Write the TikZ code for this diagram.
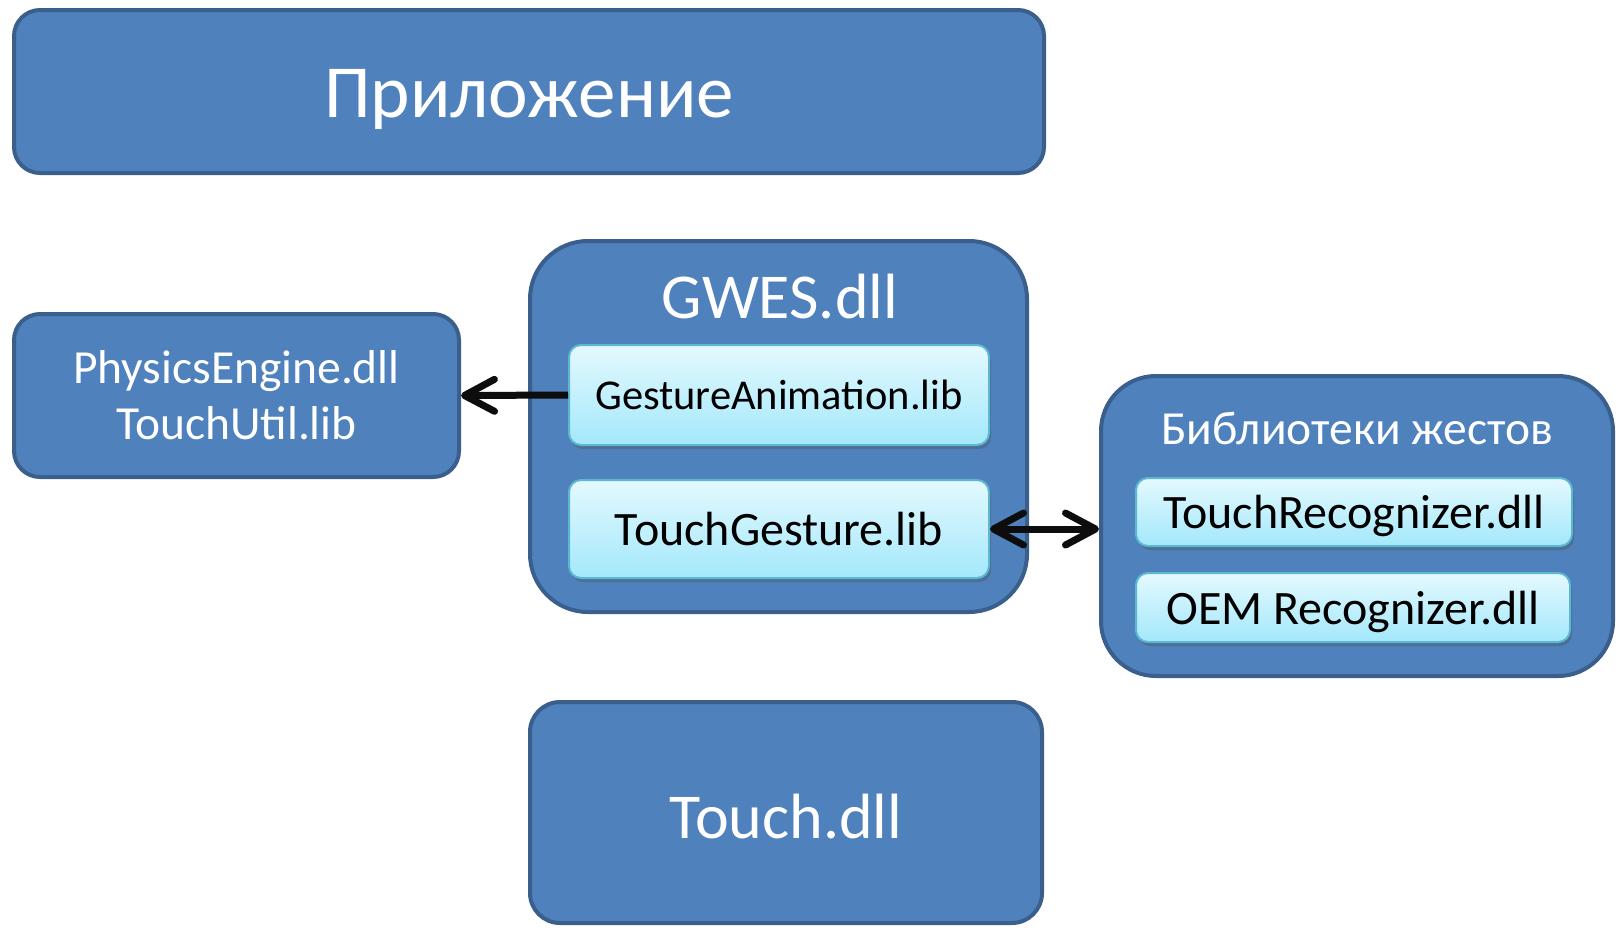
\documentclass[tikz,border=0pt]{standalone}
\usepackage{fontspec}
\setmainfont{Carlito}
\usetikzlibrary{arrows.meta,shadows}
\definecolor{boxfill}{HTML}{4F81BD}
\definecolor{boxline}{HTML}{3B5F8C}
\definecolor{libtop}{HTML}{E4F9FE}
\definecolor{libbot}{HTML}{A3E8FB}
\definecolor{libline}{HTML}{5CB8D0}
\definecolor{arrowc}{HTML}{0D0D0D}
\newcommand{\fsz}[2]{\fontsize{#1}{#2}\selectfont}
\tikzset{
  outerbox/.style={draw=boxline, fill=boxfill, line width=4pt, text=white, inner sep=0pt, align=center},
  whitetext/.style={text=white, inner sep=0pt},
  libbox/.style={draw=libline, line width=2pt, top color=libtop, bottom color=libbot, rounded corners=12pt, text=black, inner sep=0pt, text depth=0pt,
     drop shadow={shadow xshift=2pt, shadow yshift=-4pt, opacity=0.35, fill=black!70}},
  conn/.style={line width=7pt, arrowc},
  tipA/.tip={Straight Barb[length=30pt, width=32pt, line cap=round, line join=round]}
}
\begin{document}
\begin{tikzpicture}[x=1pt,y=-1pt]
\useasboundingbox (0,0) rectangle (1621,927);
\node[outerbox, rounded corners=26pt, minimum width=1030pt, minimum height=163pt] (app) at (529,91.5) {};
\node[whitetext, anchor=base, font=\fsz{75}{90}] (appt) at (529,117) {Приложение};
\node[outerbox, rounded corners=26pt, minimum width=445pt, minimum height=163pt, font=\fsz{47.5}{56}] (pe) at (236.5,395.5) {PhysicsEngine.dll\\TouchUtil.lib};
\node[outerbox, rounded corners=58pt, minimum width=497pt, minimum height=371pt] (gwes) at (778.5,426.5) {};
\node[whitetext, anchor=base, font=\fsz{64}{77}] (gwest) at (780,318) {GWES.dll};
\node[libbox, minimum width=420pt, minimum height=100pt, font=\fsz{42.5}{51}] (ga) at (779,395) {GestureAnimation.lib};
\node[libbox, minimum width=420pt, minimum height=98pt, font=\fsz{48}{58}] (tg) at (779,529) {TouchGesture.lib};
\node[outerbox, rounded corners=55pt, minimum width=512pt, minimum height=300pt] (gl) at (1357,526) {};
\node[whitetext, anchor=base, font=\fsz{47.5}{57}] (glt) at (1357,444) {Библиотеки жестов};
\node[libbox, minimum width=436pt, minimum height=68pt, font=\fsz{48}{58}] (tr) at (1354,512) {TouchRecognizer.dll};
\node[libbox, minimum width=434pt, minimum height=69pt, font=\fsz{48}{58}] (oem) at (1353,607.5) {OEM Recognizer.dll};
\node[outerbox, rounded corners=30pt, minimum width=512pt, minimum height=221pt] (touch) at (786,812.5) {};
\node[whitetext, anchor=base, font=\fsz{64}{77}] (toucht) at (786,838) {Touch.dll};
\draw[conn, -tipA] (ga.west) -- (pe.east);
\draw[conn, tipA-tipA] (tg.east) -- (tg.east -| gl.west);
\end{tikzpicture}
\end{document}
